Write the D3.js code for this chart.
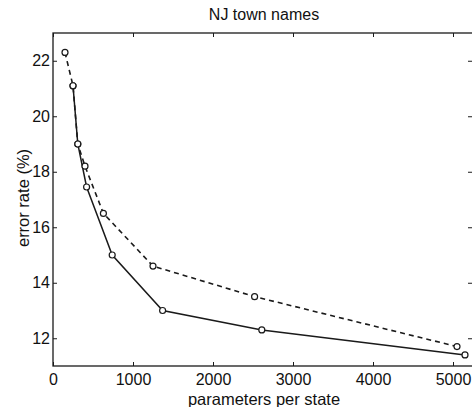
<!DOCTYPE html>
<html><head><meta charset="utf-8">
<script src="https://cdn.jsdelivr.net/npm/d3@7"></script>
<style>body{margin:0;background:#fff}svg{display:block}text{font-family:"Liberation Sans",Arial,sans-serif;fill:#111}</style>
</head><body><svg id="c" width="472" height="407"></svg>
<script>
const dashedX = [150, 250, 310, 400, 630, 1250, 2520, 5050];
const dashedY = [22.3, 21.1, 19.0, 18.2, 16.5, 14.6, 13.5, 11.7];
const solidX = [250, 310, 420, 740, 1370, 2610, 5150];
const solidY = [21.1, 19.0, 17.45, 15.0, 13.0, 12.3, 11.4];
const xTicks = [0, 1000, 2000, 3000, 4000, 5000];
const yTicks = [12, 14, 16, 18, 20, 22];
const title = "NJ town names", xLabel = "parameters per state", yLabel = "error rate (%)";

const svg = d3.select("#c");
const L = 53, R = 473, T = 33, B = 366;
const x = d3.scaleLinear().domain([0, 5250]).range([L, R]);
const y = d3.scaleLinear().domain([11, 23]).range([B, T]);
const ink = "#1a1a1a";
const FS = 16.5;

// frame
svg.append("rect").attr("x", L).attr("y", T).attr("width", R - L).attr("height", B - T)
  .attr("fill", "none").attr("stroke", ink).attr("stroke-width", 1.3);

// axes
const xa = svg.append("g").attr("transform", `translate(0,${B})`)
  .call(d3.axisBottom(x).tickValues(xTicks).tickSizeInner(-4).tickSizeOuter(0).tickPadding(7.5).tickFormat(d3.format("d")));
const xt = svg.append("g").attr("transform", `translate(0,${T})`)
  .call(d3.axisTop(x).tickValues(xTicks).tickSizeInner(-4).tickSizeOuter(0).tickFormat(""));
const ya = svg.append("g").attr("transform", `translate(${L},0)`)
  .call(d3.axisLeft(y).tickValues(yTicks).tickSizeInner(-4).tickSizeOuter(0).tickPadding(3).tickFormat(d3.format("d")));
const yr = svg.append("g").attr("transform", `translate(${R - 1},0)`)
  .call(d3.axisRight(y).tickValues(yTicks).tickSizeInner(-4).tickSizeOuter(0).tickFormat(""));
[xa, xt, ya, yr].forEach(g => {
  g.select(".domain").remove();
  g.selectAll("line").attr("stroke", ink).attr("stroke-width", 1);
  g.selectAll("text").attr("font-size", 16).attr("font-family", "Liberation Sans, Arial, sans-serif").attr("fill", "#111");
});

const line = d3.line().x(d => x(d[0])).y(d => y(d[1]));
const dashed = dashedX.map((v, i) => [v, dashedY[i]]);
const solid = solidX.map((v, i) => [v, solidY[i]]);

svg.append("path").datum(dashed).attr("d", line).attr("fill", "none")
  .attr("stroke", ink).attr("stroke-width", 1.6).attr("stroke-dasharray", "5,4");
svg.append("path").datum(solid).attr("d", line).attr("fill", "none")
  .attr("stroke", ink).attr("stroke-width", 1.5);

[dashed, solid].forEach(s => {
  svg.append("g").selectAll("circle").data(s).join("circle")
    .attr("cx", d => x(d[0])).attr("cy", d => y(d[1])).attr("r", 3)
    .attr("fill", "#fff").attr("stroke", ink).attr("stroke-width", 1.2);
});

svg.append("text").attr("x", 264).attr("y", 20).attr("text-anchor", "middle").attr("font-size", 16).text(title);
svg.append("text").attr("x", 264).attr("y", 404.5).attr("text-anchor", "middle").attr("font-size", FS).text(xLabel);
svg.append("text").attr("transform", "translate(29,198) rotate(-90)").attr("text-anchor", "middle").attr("font-size", FS).text(yLabel);
</script></body></html>
